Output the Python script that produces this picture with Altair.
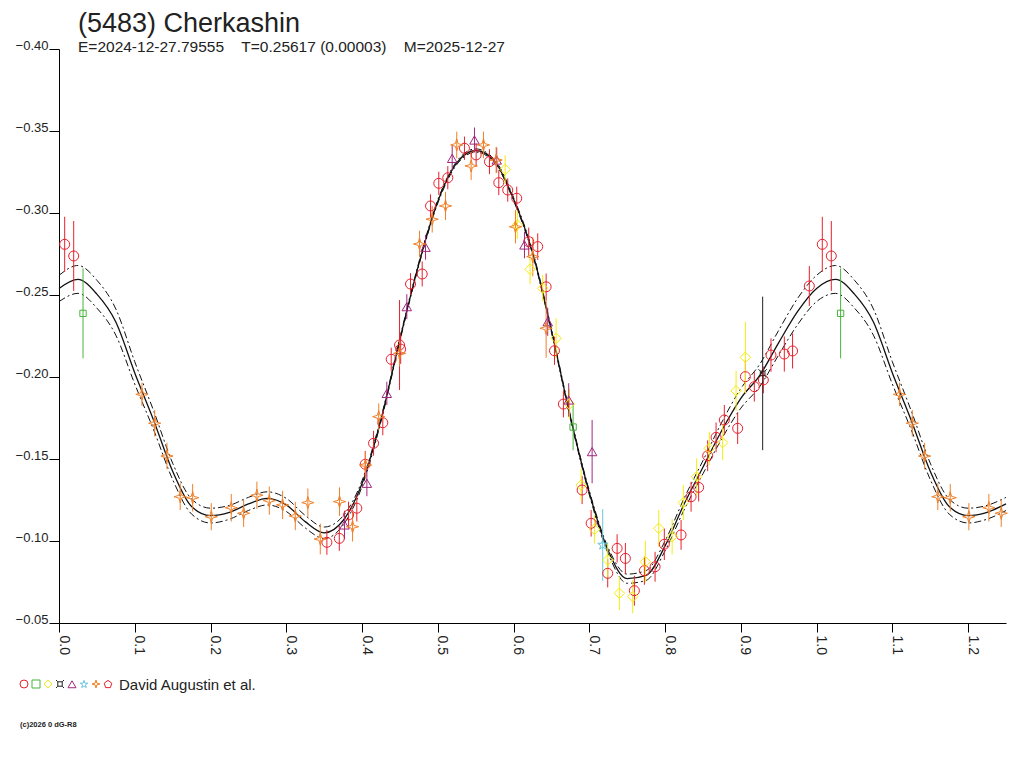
import altair as alt
import pandas as pd

# ---- data read off the reference lightcurve ----
# fit curve (solid) and the half-width of its dashed envelope
curve_phase = [0.000, 0.025, 0.050, 0.075, 0.100, 0.125, 0.150, 0.175, 0.200, 0.225,
               0.250, 0.275, 0.300, 0.325, 0.350, 0.375, 0.400, 0.425, 0.450, 0.475,
               0.500, 0.525, 0.550, 0.575, 0.600, 0.625, 0.650, 0.675, 0.700, 0.725,
               0.750, 0.775, 0.800, 0.825, 0.850, 0.875, 0.900, 0.925, 0.950, 0.975]
curve_mag = [-0.2540, -0.2595, -0.2505, -0.2335, -0.2025, -0.1735, -0.1425, -0.1210, -0.1155, -0.1175,
             -0.1226, -0.1260, -0.1220, -0.1118, -0.1050, -0.1125, -0.1350, -0.1740, -0.2230, -0.2690,
             -0.3070, -0.3305, -0.3381, -0.3315, -0.3085, -0.2760, -0.2283, -0.1756, -0.1294, -0.0940,
             -0.0770, -0.0790, -0.0970, -0.1224, -0.1450, -0.1675, -0.1870, -0.2010, -0.2210, -0.2400]
curve_halfwidth = [0.0080, 0.0085, 0.0085, 0.0080, 0.0068, 0.0058, 0.0050, 0.0046, 0.0045, 0.0042,
                   0.0040, 0.0040, 0.0040, 0.0038, 0.0035, 0.0028, 0.0018, 0.0012, 0.0010, 0.0010,
                   0.0010, 0.0010, 0.0010, 0.0010, 0.0010, 0.0010, 0.0010, 0.0010, 0.0012, 0.0018,
                   0.0028, 0.0030, 0.0030, 0.0035, 0.0040, 0.0050, 0.0060, 0.0068, 0.0075, 0.0080]

# observations: (phase, mag, error)
red_circles = [
    (0.0075, -0.2809, 0.0168), (0.0194, -0.2738, 0.0213), (0.3536, -0.0992, 0.0076),
    (0.3700, -0.1016, 0.0076), (0.3822, -0.1159, 0.0081), (0.3931, -0.1200, 0.0081),
    (0.4042, -0.1468, 0.0081), (0.4152, -0.1596, 0.0076), (0.4274, -0.1721, 0.0076),
    (0.4385, -0.2108, 0.0071), (0.4495, -0.2195, 0.0274), (0.4510, -0.2170, 0.0090),
    (0.4640, -0.2567, 0.0066), (0.4794, -0.2628, 0.0076), (0.4904, -0.3043, 0.0071),
    (0.5013, -0.3181, 0.0071), (0.5132, -0.3215, 0.0071), (0.5352, -0.3395, 0.0071),
    (0.5506, -0.3354, 0.0071), (0.5682, -0.3313, 0.0076), (0.5805, -0.3185, 0.0076),
    (0.5923, -0.3140, 0.0071), (0.6042, -0.3090, 0.0071), (0.6200, -0.2825, 0.0086),
    (0.6319, -0.2795, 0.0081), (0.6430, -0.2550, 0.0081), (0.6540, -0.2160, 0.0086),
    (0.6658, -0.1835, 0.0081), (0.6905, -0.1311, 0.0086), (0.7024, -0.1108, 0.0081),
    (0.7243, -0.0803, 0.0086), (0.7367, -0.0955, 0.0086), (0.7476, -0.0894, 0.0094),
    (0.7595, -0.0697, 0.0091), (0.7727, -0.0819, 0.0086), (0.7868, -0.0843, 0.0091),
    (0.7990, -0.0980, 0.0096), (0.8211, -0.1037, 0.0091), (0.8343, -0.1270, 0.0091),
    (0.8443, -0.1327, 0.0086), (0.8562, -0.1520, 0.0094), (0.8673, -0.1632, 0.0091),
    (0.8782, -0.1738, 0.0091), (0.8958, -0.1687, 0.0096), (0.9060, -0.2002, 0.0102),
    (0.9178, -0.1941, 0.0091), (0.9297, -0.1982, 0.0081), (0.9398, -0.2134, 0.0102),
    (0.9574, -0.2140, 0.0107), (0.9683, -0.2159, 0.0107), (0.9904, -0.2555, 0.0122),
]
green_squares = [(0.0317, -0.2388, 0.0274), (0.6786, -0.1695, 0.0142)]
yellow_diamonds = [
    (0.5889, -0.3266, 0.0086), (0.6050, -0.2927, 0.0086), (0.6218, -0.2657, 0.0091),
    (0.6385, -0.2541, 0.0081), (0.6562, -0.2236, 0.0122), (0.6737, -0.1835, 0.0091),
    (0.6892, -0.1341, 0.0096), (0.7067, -0.1071, 0.0086), (0.7243, -0.0884, 0.0107),
    (0.7397, -0.0681, 0.0102), (0.7573, -0.0661, 0.0102), (0.7740, -0.0874, 0.0127),
    (0.7916, -0.1077, 0.0112), (0.8093, -0.1026, 0.0107), (0.8241, -0.1234, 0.0107),
    (0.8417, -0.1392, 0.0112), (0.8584, -0.1565, 0.0102), (0.8760, -0.1600, 0.0107),
    (0.8937, -0.1916, 0.0122), (0.9060, -0.2120, 0.0218),
]
black_marks = [(0.9288, -0.2022, 0.0468)]
purple_triangles = [
    (0.3769, -0.1098, 0.0086), (0.4064, -0.1352, 0.0079), (0.4327, -0.1900, 0.0071),
    (0.4591, -0.2429, 0.0076), (0.4838, -0.2791, 0.0076), (0.5190, -0.3333, 0.0076),
    (0.5484, -0.3445, 0.0076), (0.5778, -0.3323, 0.0076), (0.6144, -0.2805, 0.0081),
    (0.6451, -0.2337, 0.0086), (0.6728, -0.1860, 0.0102), (0.7037, -0.1545, 0.0193),
]
cyan_stars = [(0.7177, -0.0976, 0.0218)]
orange_stars = [
    (0.1095, -0.1894, 0.0071), (0.1263, -0.1718, 0.0081), (0.1425, -0.1518, 0.0081),
    (0.1600, -0.1270, 0.0081), (0.1764, -0.1264, 0.0084), (0.2010, -0.1148, 0.0083),
    (0.2274, -0.1203, 0.0084), (0.2437, -0.1169, 0.0083), (0.2612, -0.1279, 0.0083),
    (0.2776, -0.1246, 0.0086), (0.2951, -0.1220, 0.0086), (0.3119, -0.1152, 0.0086),
    (0.3285, -0.1234, 0.0086), (0.3449, -0.1012, 0.0094), (0.3703, -0.1240, 0.0087),
    (0.3875, -0.1087, 0.0090), (0.4046, -0.1463, 0.0081), (0.4220, -0.1758, 0.0081),
    (0.4495, -0.2144, 0.0080), (0.4759, -0.2811, 0.0081), (0.4926, -0.2962, 0.0081),
    (0.5102, -0.3043, 0.0086), (0.5250, -0.3415, 0.0081), (0.5440, -0.3287, 0.0086),
    (0.5603, -0.3415, 0.0081), (0.5770, -0.3323, 0.0080), (0.6025, -0.2916, 0.0102),
    (0.6254, -0.2734, 0.0120), (0.6430, -0.2297, 0.0180),
]
red_pentagons = []

x_ticks = [0.00, 0.05, 0.10, 0.15, 0.20, 0.25, 0.30, 0.35, 0.40, 0.45, 0.50, 0.55, 0.60,
           0.65, 0.70, 0.75, 0.80, 0.85, 0.90, 0.95, 1.00, 1.05, 1.10, 1.15, 1.20, 1.25]
y_ticks = [-0.40, -0.35, -0.30, -0.25, -0.20, -0.15, -0.10, -0.05]

TITLE = "(5483) Cherkashin"
SUBTITLE = "E=2024-12-27.79555\u00a0\u00a0\u00a0\u00a0T=0.25617 (0.00003)\u00a0\u00a0\u00a0\u00a0M=2025-12-27"
CREDIT = "David Augustin et al."
FOOTER = "(c)2026 0 dG-R8"

# ---- styles ----
STAR4 = "M0,-1L0.22,-0.22L1,0L0.22,0.22L0,1L-0.22,0.22L-1,0L-0.22,-0.22Z"
STAR5 = ("M0,-1L0.2245,-0.309L0.951,-0.309L0.363,0.118L0.588,0.809L0,0.382"
         "L-0.588,0.809L-0.363,0.118L-0.951,-0.309L-0.2245,-0.309Z")
PENTA = "M0,-1L0.951,-0.309L0.588,0.809L-0.588,0.809L-0.951,-0.309Z"
CURRENCY = ("M-0.55,-0.55L0.55,-0.55L0.55,0.55L-0.55,0.55Z"
            "M-1,-1L-0.55,-0.55M1,-1L0.55,-0.55M1,1L0.55,0.55M-1,1L-0.55,0.55")

series = [
    ("set 1", red_circles, "#e8202c", "circle", 100),
    ("set 2", green_squares, "#48b43c", "square", 40),
    ("set 3", yellow_diamonds, "#f4ec10", "diamond", 110),
    ("set 4", black_marks, "#202020", CURRENCY, 70),
    ("set 5", purple_triangles, "#a0287c", "triangle-up", 90),
    ("set 6", cyan_stars, "#68c4dc", STAR5, 110),
    ("set 7", orange_stars, "#f08028", STAR4, 150),
    ("set 8", red_pentagons, "#e8202c", PENTA, 100),
]
names = [s[0] for s in series]
colors = [s[2] for s in series]
shapes = [s[3] for s in series]

rows = []
for name, pts, col, shp, sz in series:
    for ph, mg, er in pts:
        # the plot repeats the first quarter of the cycle after phase 1.0
        for shift in ([0.0, 1.0] if ph <= 0.25 else [0.0]):
            rows.append({"series": name, "phase": ph + shift, "mag": mg,
                         "lo": mg - er, "hi": mg + er, "col": col, "sz": sz})
obs = pd.DataFrame(rows)

crows = []
for ph, mg, hw in zip(curve_phase, curve_mag, curve_halfwidth):
    for shift in ([0.0, 1.0] if ph <= 0.25 else [0.0]):
        crows.append({"phase": ph + shift, "mag": mg, "upper": mg - hw, "lower": mg + hw})
fit = pd.DataFrame(crows).sort_values("phase")

x_axis = alt.Axis(values=x_ticks, title=None, grid=False,
                  labelExpr="(round(datum.value*100) % 10 == 0) ? format(datum.value, '.1f') : ''",
                  labelAngle=90, labelAlign="left", labelBaseline="alphabetic",
                  labelFontSize=14, labelPadding=3, tickSize=9,
                  labelFlush=False, labelOverlap=False)
y_axis = alt.Axis(values=y_ticks, title=None, grid=False, format=".2f",
                  labelAlign="right", labelBaseline="alphabetic", labelFontSize=13,
                  labelPadding=1, tickSize=10, labelFlush=False, labelOverlap=False)

x_enc = alt.X("phase:Q", scale=alt.Scale(domain=[0, 1.25], nice=False, zero=False), axis=x_axis)
y_scale = alt.Scale(domain=[-0.40, -0.05], reverse=True, nice=False, zero=False)

base = alt.Chart(fit)
solid = base.mark_line(color="#111111", strokeWidth=1.3, interpolate="monotone").encode(
    x=x_enc, y=alt.Y("mag:Q", scale=y_scale, axis=y_axis))
upper = base.mark_line(color="#111111", strokeWidth=1, strokeDash=[7, 3, 2, 3],
                       interpolate="monotone").encode(x="phase:Q", y="upper:Q")
lower = base.mark_line(color="#111111", strokeWidth=1, strokeDash=[7, 3, 2, 3],
                       interpolate="monotone").encode(x="phase:Q", y="lower:Q")

errbars = alt.Chart(obs).mark_rule(strokeWidth=1).encode(
    x="phase:Q", y="lo:Q", y2="hi:Q", color=alt.Color("col:N", scale=None))

legend = alt.Legend(orient="none", legendX=-40, legendY=630, direction="horizontal",
                    columns=8, title=CREDIT, titleOrient="right", labelExpr="''",
                    symbolSize=64, symbolStrokeWidth=1, columnPadding=0,
                    labelOffset=0, padding=0, titleFontSize=15,
                    titleFont="Liberation Sans", titleFontWeight="normal",
                    titleColor="#222222", titlePadding=5)

points = alt.Chart(obs).mark_point(filled=False, strokeWidth=1, opacity=1).encode(
    x="phase:Q", y="mag:Q",
    color=alt.Color("series:N", scale=alt.Scale(domain=names, range=colors), legend=legend),
    shape=alt.Shape("series:N", scale=alt.Scale(domain=names, range=shapes), legend=legend),
    size=alt.Size("sz:Q", scale=None),
)

footer = alt.Chart(pd.DataFrame({"t": [FOOTER]})).mark_text(
    align="left", baseline="middle", fontSize=7.5, font="Liberation Sans",
    fontWeight="bold", color="#222222").encode(
    x=alt.value(-39), y=alt.value(676), text="t:N")

chart = alt.layer(upper, lower, solid, errbars, points, footer).properties(
    width=947, height=574, autosize="none",
    padding={"left": 51, "top": 41, "right": 10, "bottom": 110},
    title=alt.TitleParams(text=TITLE, subtitle=SUBTITLE, anchor="start", frame="group",
                          dx=19, offset=-17, font="Liberation Sans", fontSize=27,
                          fontWeight="normal", color="#222222",
                          subtitleFont="Liberation Sans", subtitleFontSize=15.5,
                          subtitleColor="#222222", subtitlePadding=2),
).configure_view(stroke=None).configure_axis(
    domainColor="#000000", tickColor="#000000", labelColor="#222222",
    labelFont="Liberation Sans", domainWidth=1, tickWidth=1)

chart.save("out.html", embed_options={"renderer": "svg", "actions": False})
